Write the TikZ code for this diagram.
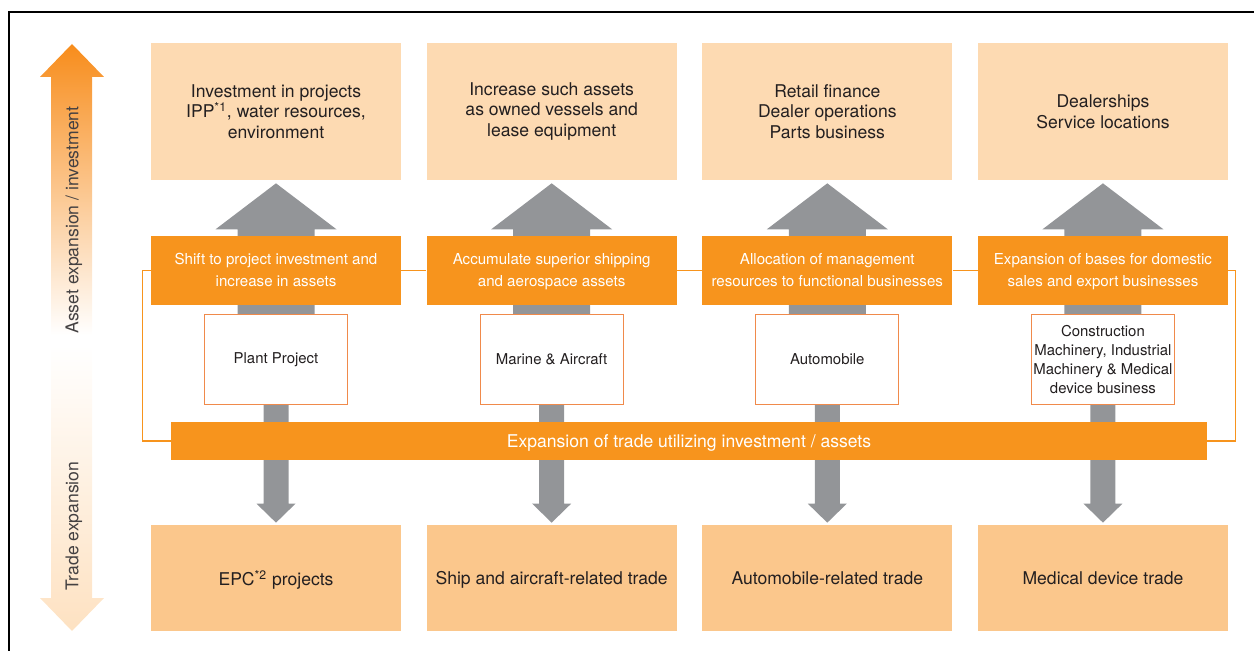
\documentclass[tikz,border=0pt]{standalone}
\usepackage{fontspec}
\setmainfont{TeX Gyre Heros}
\usetikzlibrary{positioning, calc, backgrounds}
\definecolor{brandorange}{HTML}{F7941D}
\definecolor{peachlight}{HTML}{FDDAB2}
\definecolor{peachdark}{HTML}{FBC78C}
\definecolor{arrowgray}{HTML}{939598}
\definecolor{darktext}{HTML}{231F20}
\definecolor{boxedge}{HTML}{F08A4B}

\begin{document}
\begin{tikzpicture}[
    x=0.02cm, y=-0.02cm,
    node distance=0.5cm,
    goal/.style={rectangle, fill=peachlight, minimum width=5cm, minimum height=2.74cm, inner sep=0pt, align=center, text=darktext, font=\fontsize{10}{11.7}\selectfont},
    strategy/.style={rectangle, fill=brandorange, minimum width=5cm, minimum height=1.38cm, inner sep=0pt, text depth=0pt, align=center, text=white, font=\fontsize{8.6}{12.5}\selectfont},
    business/.style={rectangle, draw=boxedge, line width=0.6pt, fill=white, minimum width=2.86cm, minimum height=1.8cm, inner sep=0pt, align=center, text=darktext, font=\fontsize{8.5}{10.8}\selectfont},
    trade/.style={rectangle, fill=peachdark, minimum width=5cm, minimum height=2.12cm, inner sep=0pt, text depth=0pt, align=center, text=darktext, font=\fontsize{10}{12}\selectfont},
    link/.style={draw=brandorange, line width=0.6pt}
]
    \useasboundingbox (0,0) rectangle (1254,651);
    \draw[line width=0.6pt] (9,651) |- (1254,12);

    % top row
    \node[goal] (invest1) at (276,111.5) {Investment in projects\\IPP\textsuperscript{*1}, water resources,\\environment};
    \node[goal, right=of invest1] (invest2) {Increase such assets\\as owned vessels and\\lease equipment};
    \node[goal, right=of invest2] (invest3) {Retail finance\\Dealer operations\\Parts business};
    \node[goal, right=of invest3] (invest4) {Dealerships\\Service locations};

    % strategy row
    \node[strategy, below=1.1cm of invest1] (strat1) {Shift to project investment and\\increase in assets};
    \node[strategy, below=1.1cm of invest2] (strat2) {Accumulate superior shipping\\and aerospace assets};
    \node[strategy, below=1.1cm of invest3] (strat3) {Allocation of management\\resources to functional businesses};
    \node[strategy, below=1.1cm of invest4] (strat4) {Expansion of bases for domestic\\sales and export businesses};

    % business units
    \node[business, below=0.18cm of strat1] (biz1) {Plant Project};
    \node[business, below=0.18cm of strat2] (biz2) {Marine \& Aircraft};
    \node[business, below=0.18cm of strat3] (biz3) {Automobile};
    \node[business, below=0.18cm of strat4] (biz4) {Construction\\Machinery, Industrial\\Machinery \& Medical\\device business};

    % trade bar
    \node[rectangle, fill=brandorange, minimum width=20.72cm, minimum height=0.76cm, inner sep=0pt, text depth=0pt, text=white, font=\fontsize{10}{12}\selectfont] (bar) at (689,441) {Expansion of trade utilizing investment / assets};

    % bottom row
    \node[trade] (trade1) at (invest1 |- 0,578) {EPC\textsuperscript{*2} projects};
    \node[trade] (trade2) at (invest2 |- 0,578) {Ship and aircraft-related trade};
    \node[trade] (trade3) at (invest3 |- 0,578) {Automobile-related trade};
    \node[trade] (trade4) at (invest4 |- 0,578) {Medical device trade};

    \begin{scope}[on background layer]
        % links between strategies
        \draw[link] (strat1) -- (strat2);
        \draw[link] (strat2) -- (strat3);
        \draw[link] (strat3) -- (strat4);
        \draw[link] (strat1.west) -- ++(-8,0) |- (bar.west);
        \draw[link] (strat4.east) -- ++(7,0) |- (bar.east);

        % gray arrows
        \foreach \i in {1,...,4} {
            \fill[arrowgray] ($(biz\i.north)+(-38.5,0)$) -- ($(invest\i.south)+(-38.5,49)$) -- ($(invest\i.south)+(-60.5,49)$) -- ($(invest\i.south)+(0,3)$) -- ($(invest\i.south)+(60.5,49)$) -- ($(invest\i.south)+(38.5,49)$) -- ($(biz\i.north)+(38.5,0)$) -- cycle;
            \fill[arrowgray] ($(biz\i.south)+(-12.5,0)$) -- ($(trade\i.north)+(-12.5,-21)$) -- ($(trade\i.north)+(-19.5,-21)$) -- ($(trade\i.north)+(0,-2)$) -- ($(trade\i.north)+(19.5,-21)$) -- ($(trade\i.north)+(12.5,-21)$) -- ($(biz\i.south)+(12.5,0)$) -- cycle;
        }
    \end{scope}

    % side arrows
    \shade[top color=brandorange!95!red, bottom color=white] (51,335) -- (51,77) -- (40,77) -- (72,44) -- (104,77) -- (92,77) -- (92,335) -- cycle;
    \shade[top color=white, bottom color=peachlight!80!white] (51,345) -- (51,598) -- (40,598) -- (72,631) -- (104,598) -- (92,598) -- (92,345) -- cycle;
    \node[rotate=90, text=darktext!85, font=\fontsize{10}{12}\selectfont] (assetlabel) at (74,220) {Asset expansion / investment};
    \node[rotate=90, text=darktext!85, font=\fontsize{10}{12}\selectfont] (tradelabel) at (74,526) {Trade expansion};
\end{tikzpicture}
\end{document}
